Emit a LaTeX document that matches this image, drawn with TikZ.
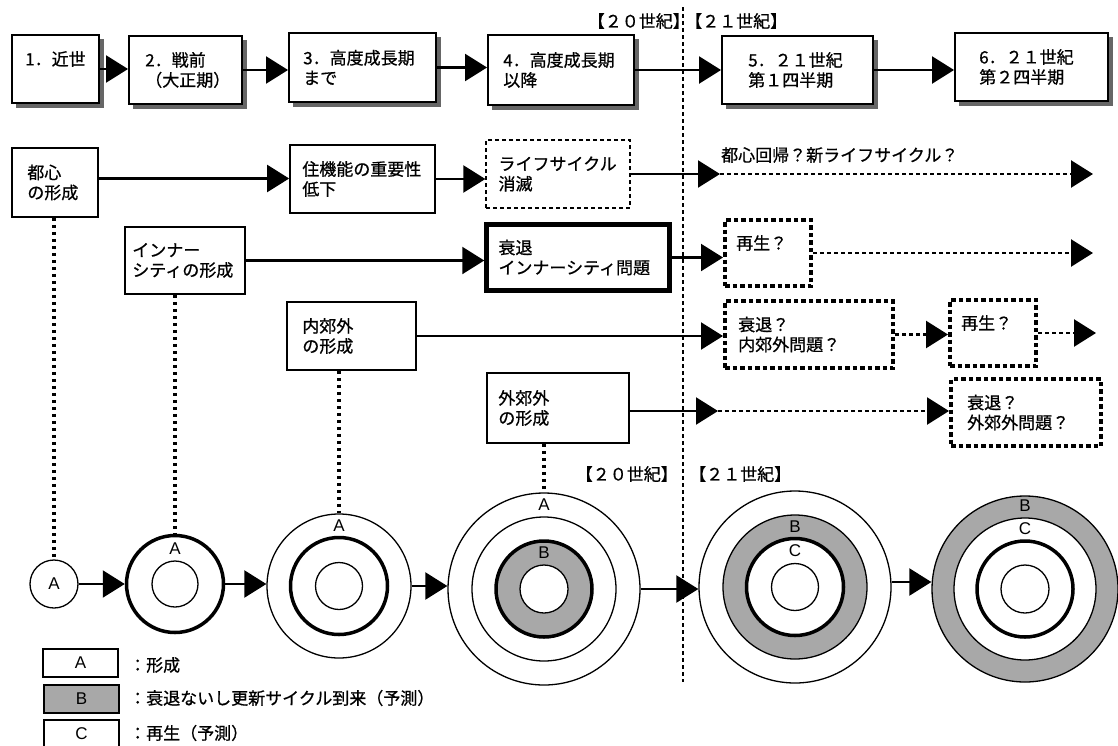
\documentclass[tikz,border=0pt]{standalone}
\usepackage{fontspec}
\setmainfont{Noto Sans CJK JP}[FakeBold=0.7]
\newfontfamily\latf{Liberation Sans}
\usetikzlibrary{arrows.meta}
\definecolor{ringgray}{gray}{0.66}
\pgfdeclarelayer{bg}
\pgfsetlayers{bg,main}
\begin{document}
\begin{tikzpicture}[x=1pt,y=-1pt,
  txt/.style={anchor=west,align=left,inner sep=0pt,font=\fontsize{17}{20}\selectfont},
  plain/.style={inner sep=0pt,font=\fontsize{17}{20}\selectfont},
  box/.style={draw,line width=1.7pt,fill=white,inner sep=0pt},
  tbox/.style={box,line width=1.9pt},
  shade/.style={fill=black!60},
  dbox/.style={box,line width=1.3pt,dash pattern=on 4pt off 3pt},
  heavybox/.style={box,line width=4.5pt},
  qbox/.style={box,line width=4pt,dash pattern=on 4.5pt off 3pt},
  arr/.style={line width=2.2pt,-{Triangle[length=22pt,width=27pt]}},
  darr/.style={arr,line width=2.5pt,dash pattern=on 4pt off 3pt},
  vdot/.style={line width=4pt,dash pattern=on 3.5pt off 3.5pt},
  divider/.style={line width=1.3pt,dash pattern=on 4pt off 3pt},
  ring/.style={circle,draw,inner sep=0pt,line width=1.3pt,fill=white},
  thickring/.style={ring,line width=3.5pt},
  abc/.style={font=\latf\fontsize{17}{17}\selectfont,inner sep=0pt},
  lgbox/.style={draw,line width=1.6pt,inner sep=0pt,minimum width=75pt,minimum height=28pt,font=\latf\fontsize{17}{17}\selectfont},
]
\useasboundingbox (0,0) rectangle (1118,745);
\begin{pgfonlayer}{bg}
\fill[white] (0,0) rectangle (1118,745);
\end{pgfonlayer}

% divider
\draw[divider] (683,7) -- (683,682);
\node[plain,anchor=east] (l20a) at (690,21) {【２０世紀】};
\node[plain,anchor=west] (l21a) at (685,21) {【２１世紀】};
\node[plain,anchor=east] (l20b) at (678,474) {【２０世紀】};
\node[plain,anchor=west] (l21b) at (689,474) {【２１世紀】};

% top row
\node[tbox,minimum width=87pt,minimum height=68pt] (b1) at (55.5,69) {};
\node[txt] (b1t) at ([xshift=14pt]b1.west) {1．近世\\\phantom{世}};
\node[tbox,minimum width=113pt,minimum height=68pt] (b2) at (185.5,70) {};
\node[txt] (b2t) at ([xshift=17pt]b2.west) {2．戦前\\（大正期）};
\node[tbox,minimum width=147pt,minimum height=69pt] (b3) at (362.5,67.5) {};
\node[txt] (b3t) at ([xshift=15pt]b3.west) {3．高度成長期\\まで};
\node[tbox,minimum width=146pt,minimum height=70pt] (b4) at (561,70) {};
\node[txt] (b4t) at ([xshift=16pt]b4.west) {4．高度成長期\\以降};
\node[tbox,minimum width=151pt,minimum height=68pt] (b5) at (797.5,70) {};
\node[txt] (b5t) at ([xshift=27pt]b5.west) {5．２１世紀\\第１四半期};
\node[tbox,minimum width=153pt,minimum height=68pt] (b6) at (1031.5,67) {};
\node[txt] (b6t) at ([xshift=25pt]b6.west) {6．２１世紀\\第２四半期};

\begin{pgfonlayer}{bg}
\foreach \b in {b1,b2,b3,b4,b5,b6}{
  \fill[shade] ([shift={(4.5pt,-4.5pt)}]\b.south west) rectangle ([shift={(4.5pt,-4.5pt)}]\b.north east);
}
\end{pgfonlayer}

\draw[arr] (b1.east) -- (b1.east -| b2.west);
\draw[arr] (b2.east) -- (b2.east -| b3.west);
\draw[arr] (b3.east) -- (b3.east -| b4.west);
\draw[arr] (b4.east) -- (b4.east -| b5.west);
\draw[arr] (b5.east) -- (b5.east -| b6.west);

% row 2
\node[box,minimum width=86pt,minimum height=69pt] (toshin) at (55,182.5) {};
\node[txt] (toshint) at ([xshift=16pt]toshin.west) {都心\\の形成};
\node[box,minimum width=145pt,minimum height=68pt] (jukino) at (362.5,179) {};
\node[txt] (jukinot) at ([xshift=13pt]jukino.west) {住機能の重要性\\低下};
\node[dbox,minimum width=144pt,minimum height=68pt] (life) at (558,174) {};
\node[txt] (lifet) at ([xshift=13pt]life.west) {ライフサイクル\\消滅};
\coordinate (r2a) at (720,174);
\coordinate (r2b) at (1093,174);
\node[plain,anchor=west] (r2lab) at (721,155) {都心回帰？新ライフサイクル？};
\draw[arr] ([yshift=4pt]toshin.east) -- ([yshift=4pt]toshin.east -| jukino.west);
\draw[arr] (jukino.east) -- (jukino.east -| life.west);
\draw[arr] (life.east) -- (r2a);
\draw[darr] (r2a) -- (r2b);

% row 3
\node[box,minimum width=120pt,minimum height=67pt] (inner) at (185,260.5) {};
\node[txt] (innert) at ([xshift=8pt]inner.west) {インナー\\シティの形成};
\node[heavybox,minimum width=183pt,minimum height=66pt] (decline) at (578,257.5) {};
\node[txt] (declinet) at ([xshift=14pt]decline.west) {衰退\\インナーシティ問題};
\node[qbox,minimum width=86pt,minimum height=66pt] (saisei) at (768,253) {};
\node[txt] (saiseit) at ([xshift=13pt]saisei.west) {再生？\\\phantom{再}};
\coordinate (r3b) at (1093,253);
\draw[arr] (inner.east) -- (inner.east -| decline.west);
\draw[arr] (decline.east) -- (decline.east -| saisei.west);
\draw[darr] (saisei.east) -- (r3b);

% row 4
\node[box,minimum width=129pt,minimum height=68pt] (naikou) at (351.5,336) {};
\node[txt] (naikout) at ([xshift=16pt]naikou.west) {内郊外\\の形成};
\node[qbox,minimum width=168pt,minimum height=67pt] (suitaiA) at (809,334.5) {};
\node[txt] (suitaiAt) at ([xshift=15pt]suitaiA.west) {衰退？\\内郊外問題？};
\node[qbox,minimum width=86pt,minimum height=66pt] (saiseiB) at (993,333) {};
\node[txt] (saiseiBt) at ([xshift=13pt]saiseiB.west) {再生？\\\phantom{再}};
\coordinate (r4b) at (1096,333);
\draw[arr] (naikou.east) -- (naikou.east -| suitaiA.west);
\draw[darr] (suitaiA.east) -- (suitaiA.east -| saiseiB.west);
\draw[darr] (saiseiB.east) -- (r4b);

% row 5
\node[box,minimum width=142pt,minimum height=70pt] (gaikou) at (558,408) {};
\node[txt] (gaikout) at ([xshift=12pt]gaikou.west) {外郊外\\の形成};
\node[qbox,minimum width=150pt,minimum height=67pt] (suitaiB) at (1026,412.5) {};
\node[txt] (suitaiBt) at ([xshift=18pt]suitaiB.west) {衰退？\\外郊外問題？};
\coordinate (r5a) at (718,411);
\draw[arr] (gaikou.east |- r5a) -- (r5a);
\draw[darr] (r5a) -- (r5a -| suitaiB.west);

% circles
\node[ring,minimum size=48pt] (c1) at (54,584) {};
\node[abc] (c1a) at (54,584) {A};

\node[thickring,minimum size=97pt] (c2) at (175,584) {};
\node[ring,minimum size=46pt] (c2i) at (175,584) {};
\node[abc] (c2a) at (175,549) {A};

\node[ring,minimum size=144pt] (c3) at (339,586) {};
\node[thickring,minimum size=97pt] (c3m) at (339,586) {};
\node[ring,minimum size=47pt] (c3i) at (339,586) {};
\node[abc] (c3a) at (339,526) {A};

\node[ring,minimum size=192pt] (c4) at (544,589) {};
\node[ring,minimum size=144pt] (c4m) at (544,589) {};
\node[thickring,minimum size=96pt,fill=ringgray] (c4g) at (544,589) {};
\node[ring,minimum size=48pt] (c4i) at (544,589) {};
\node[abc] (c4a) at (544,505) {A};
\node[abc] (c4b) at (544,553) {B};

\node[ring,minimum size=192pt] (c5) at (795,587) {};
\node[ring,minimum size=144pt,fill=ringgray] (c5g) at (795,587) {};
\node[thickring,minimum size=97pt] (c5m) at (795,587) {};
\node[ring,minimum size=47pt] (c5i) at (795,587) {};
\node[abc] (c5b) at (795,527) {B};
\node[abc] (c5c) at (795,551) {C};

\node[ring,minimum size=186pt,fill=ringgray] (c6) at (1025,589) {};
\node[ring,minimum size=142pt] (c6w) at (1025,589) {};
\node[thickring,minimum size=96pt] (c6m) at (1025,589) {};
\node[ring,minimum size=48pt] (c6i) at (1025,589) {};
\node[abc] (c6b) at (1025,506) {B};
\node[abc] (c6c) at (1025,529) {C};

\draw[arr] (c1.east) -- (c1.east -| c2.west);
\draw[arr] (c2.east) -- (c2.east -| c3.west);
\draw[arr] (c3.east) -- (c3.east -| c4.west);
\draw[arr] (c4.east) -- (c4.east -| c5.west);
\draw[arr] ([yshift=5pt]c5.east) -- ([yshift=5pt]c5.east -| c6.west);

% dotted drop lines
\draw[vdot] (toshin.south -| c1.north) -- (c1.north);
\draw[vdot] (inner.south -| c2.north) -- (c2.north);
\draw[vdot] (naikou.south -| c3.north) -- (c3.north);
\draw[vdot] (gaikou.south -| c4.north) -- (c4.north);

% legend
\node[lgbox] (lgA) at (80.5,663) {A};
\node[lgbox,fill=ringgray] (lgB) at (81.5,699) {B};
\node[lgbox] (lgC) at (81.5,734) {C};
\node[plain,anchor=west] (lgAt) at (129,665) {：形成};
\node[plain,anchor=west] (lgBt) at (129,698) {：衰退ないし更新サイクル到来（予測）};
\node[plain,anchor=west] (lgCt) at (129,733) {：再生（予測）};
\end{tikzpicture}
\end{document}
